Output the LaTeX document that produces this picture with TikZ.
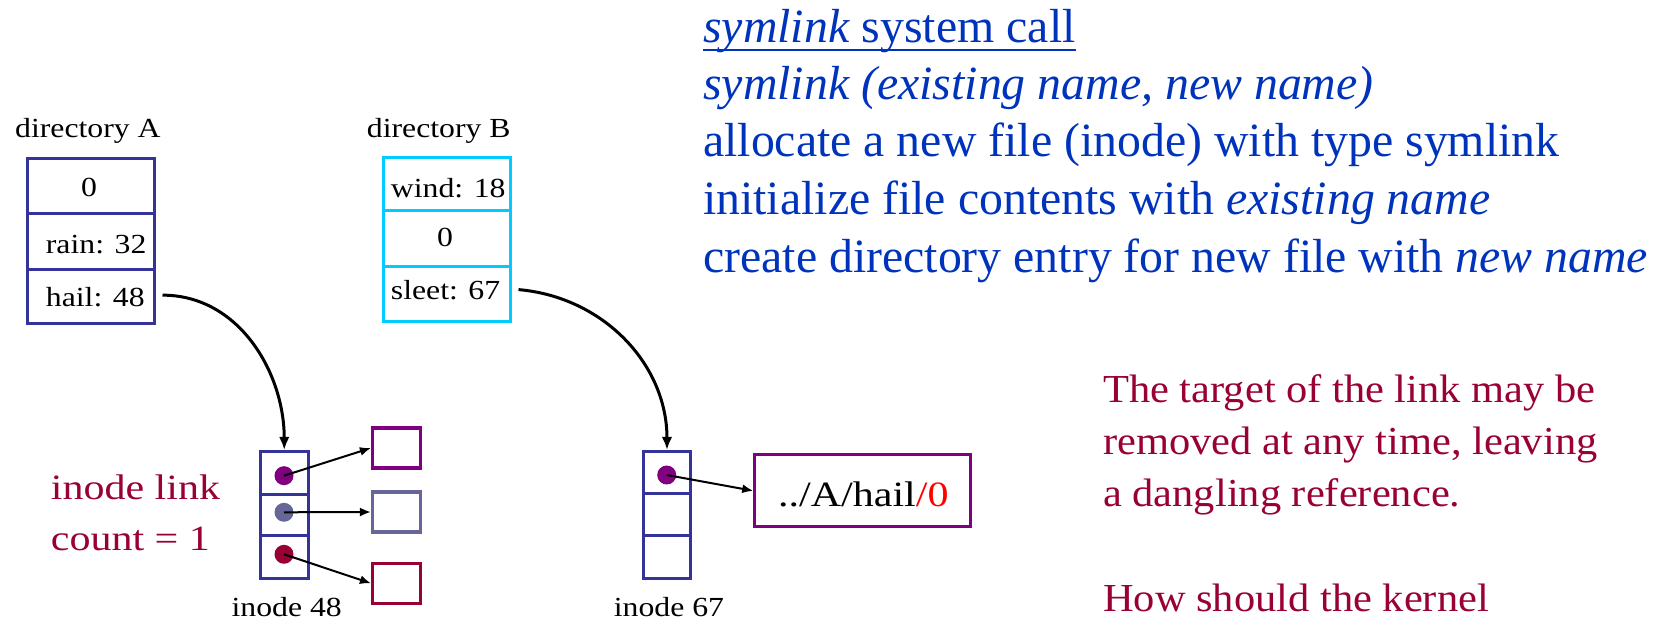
\documentclass[tikz,border=0pt]{standalone}
\usepackage{fontspec}
\setmainfont{Liberation Serif}
\newfontfamily\diagfont[FakeStretch=1.15]{Liberation Serif}
\newfontfamily\bigdiagfont[FakeStretch=1.18]{Liberation Serif}
\newfontfamily\notefont[FakeStretch=1.07]{Liberation Serif}
\usetikzlibrary{arrows.meta}
\definecolor{boxblue}{HTML}{333399}
\definecolor{dircyan}{HTML}{00CCFF}
\definecolor{ptrpurple}{HTML}{800080}
\definecolor{ptrslate}{HTML}{666699}
\definecolor{ptrcrimson}{HTML}{990033}
\definecolor{textblue}{HTML}{0033BB}
\definecolor{textred}{HTML}{990033}
\definecolor{nullred}{HTML}{FF0000}
\begin{document}
\begin{tikzpicture}[x=1pt,y=1pt,
  cellA/.style={rectangle,draw=boxblue,line width=3pt,inner sep=0pt,minimum width=126.5pt},
  cellB/.style={rectangle,draw=dircyan,line width=3pt,inner sep=0pt,minimum width=127pt},
  icell/.style={rectangle,draw=boxblue,line width=3pt,inner sep=0pt,minimum width=47.7pt},
  blk/.style={rectangle,draw=#1,line width=3.1pt,inner sep=0pt,minimum width=47.7pt,minimum height=40pt},
  dot/.style={circle,fill=#1,inner sep=0pt,minimum size=19pt},
  lbl/.style={inner sep=0pt,font={\diagfont\fontsize{27.6}{32}\selectfont}},
  biglbl/.style={inner sep=0pt,font={\bigdiagfont\fontsize{35.6}{42}\selectfont}},
  bluetxt/.style={inner sep=0pt,anchor=base west,text=textblue,font={\fontsize{47.8}{57}\selectfont}},
  redtxt/.style={inner sep=0pt,anchor=base west,text=textred,font={\notefont\fontsize{39.7}{52}\selectfont}},
  ptr/.style={line width=2pt,-{Latex[length=11pt,width=9pt]}},
  link/.style={line width=3pt,-{Latex[length=13pt,width=10.5pt]}}
]
\useasboundingbox (0,0) rectangle (1655,621);

% directory A
\node[lbl,anchor=base west] (labA) at (15,483.7) {directory A};
\node[cellA,minimum height=54.8pt] (dA1) at (90.75,435.1) {};
\node[cellA,minimum height=56pt] (dA2) at (90.75,379.7) {};
\node[cellA,minimum height=54.7pt] (dA3) at (90.75,324.35) {};
\node[lbl,anchor=base] (tA1) at (89,424.3) {0};
\node[lbl,anchor=base west] (tA2) at (45.7,367) {rain: 32};
\node[lbl,anchor=base west] (tA3) at (45.7,314.3) {hail: 48};

% directory B
\node[lbl,anchor=base west] (labB) at (366.7,483.7) {directory B};
\node[cellB,minimum height=53.2pt] (dB1) at (446.5,436.9) {};
\node[cellB,minimum height=56pt] (dB2) at (446.5,382.3) {};
\node[cellB,minimum height=54.8pt] (dB3) at (446.5,326.9) {};
\node[lbl,anchor=base west] (tB1) at (390.7,423.7) {wind: 18};
\node[lbl,anchor=base] (tB2) at (445,374.3) {0};
\node[lbl,anchor=base west] (tB3) at (390.7,321) {sleet: 67};

% inode 48
\node[icell,minimum height=42.8pt] (i48a) at (284.25,148.1) {};
\node[icell,minimum height=41.7pt] (i48b) at (284.25,105.85) {};
\node[icell,minimum height=42.5pt] (i48c) at (284.25,63.75) {};
\node[dot=ptrpurple] (d48a) at (284,145.3) {};
\node[dot=ptrslate] (d48b) at (284,108.7) {};
\node[dot=ptrcrimson] (d48c) at (284,66.7) {};
\node[blk=ptrpurple] (b1) at (396.35,173) {};
\node[blk=ptrslate] (b2) at (396.35,109) {};
\node[blk=ptrcrimson] (b3) at (396.35,37.7) {};
\draw[ptr] (d48a.center) -- (b1.west);
\draw[ptr] (d48b.center) -- (b2.west);
\draw[ptr] (d48c.center) -- (b3.west);
\node[lbl,anchor=base] (lab48) at (286.7,4) {inode 48};
\node[biglbl,anchor=base west,text=textred] (cnt1) at (50.7,121) {inode link};
\node[biglbl,anchor=base west,text=textred] (cnt2) at (50.7,70.3) {count = 1};

% inode 67
\node[icell,minimum height=41.8pt] (i67a) at (667,148.6) {};
\node[icell,minimum height=42.4pt] (i67b) at (667,106.5) {};
\node[icell,minimum height=42.8pt] (i67c) at (667,63.9) {};
\node[dot=ptrpurple] (d67a) at (666.7,146) {};
\node[rectangle,draw=ptrpurple,line width=3.1pt,inner sep=0pt,minimum width=215.4pt,minimum height=72pt] (path) at (862.5,130.2) {};
\node[biglbl,anchor=base west] (pathtxt) at (778,114.3) {../A/hail\textcolor{nullred}{/0}};
\draw[ptr] (d67a.center) -- (path.west);
\node[lbl,anchor=base] (lab67) at (669,4) {inode 67};

% directory entries to inodes
\draw[link] ([xshift=7pt,yshift=1.5pt]dA3.east) to[out=0,in=90] (i48a.north);
\draw[link] ([xshift=7pt,yshift=4.5pt]dB3.east) to[out=-5,in=90] (i67a.north);

% blue text
\node[bluetxt] (t1) at (703,578) {\textit{symlink} system call};
\draw[textblue,line width=2.7pt] ([yshift=-7pt]t1.base west) -- ([yshift=-7pt]t1.base east);
\node[bluetxt] (t2) at (703,521) {\textit{symlink (existing name, new name)}};
\node[bluetxt] (t3) at (703,464) {allocate a new file (inode) with type symlink};
\node[bluetxt] (t4) at (703,406) {initialize file contents with \textit{existing name}};
\node[bluetxt] (t5) at (703,348) {create directory entry for new file with \textit{new name}};

% red note
\node[redtxt] (n1) at (1103,218) {The target of the link may be};
\node[redtxt] (n2) at (1103,166) {removed at any time, leaving};
\node[redtxt] (n3) at (1103,114) {a dangling reference.};
\node[redtxt] (n4) at (1103,9) {How should the kernel};
\end{tikzpicture}
\end{document}
